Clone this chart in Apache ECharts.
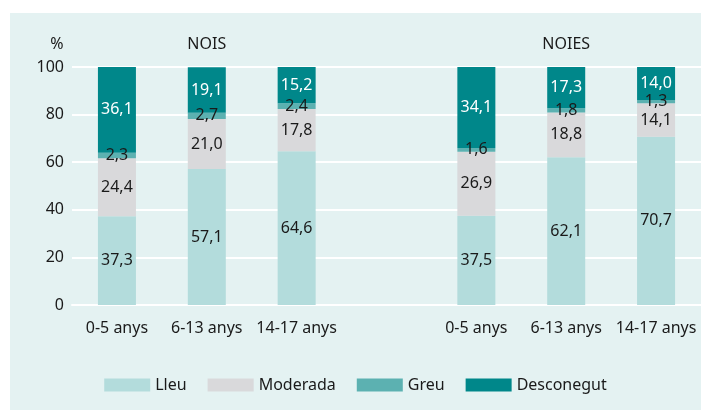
<!DOCTYPE html>
<html>
<head>
<meta charset="utf-8">
<script src="https://cdn.jsdelivr.net/npm/echarts@6/dist/echarts.min.js"></script>
<style>
  html, body { margin: 0; padding: 0; background: #ffffff; }
  #wrap { position: relative; width: 701px; height: 410px; }
  #chart { position: absolute; left: 10px; top: 13px; width: 691px; height: 397px; background: #e4f2f2; }
</style>
</head>
<body>
<div id="wrap"><div id="chart"></div></div>
<script>
// categories: 3 age groups for nois, a gap, 3 for noies
var categories = ['n0', 'n1', 'n2', 'gap', 'f0', 'f1', 'f2'];
var ageLabels = ['0-5 anys', '6-13 anys', '14-17 anys', '', '0-5 anys', '6-13 anys', '14-17 anys'];
var groupNames = ['NOIS', 'NOIES'];
var groupCenterIdx = [1, 5];

var lleu       = [37.3, 57.1, 64.6, '-', 37.5, 62.1, 70.7];
var moderada   = [24.4, 21.0, 17.8, '-', 26.9, 18.8, 14.1];
var greu       = [2.3, 2.7, 2.4, '-', 1.6, 1.8, 1.3];
var desconegut = [36.1, 19.1, 15.2, '-', 34.1, 17.3, 14.0];

var yTicks = [0, 20, 40, 60, 80, 100];

var FONT = 'Noto Sans';
var TXT = '#1a1a1a';

function fmt(p) {
    return Number(p.value).toFixed(1).replace('.', ',');
}

function makeSeries(name, data, color, labelColor) {
    return {
        name: name,
        type: 'bar',
        stack: 'total',
        barWidth: 38,
        data: data,
        itemStyle: {color: color},
        label: {
            show: true,
            position: 'inside',
            formatter: fmt,
            color: labelColor,
            fontFamily: FONT,
            fontSize: 16
        }
    };
}

var myChart = echarts.init(document.getElementById('chart'));

var option = {
    animation: false,
    textStyle: {fontFamily: FONT},
    grid: {left: 62, right: 0, top: 54, bottom: 105},
    legend: {
        bottom: 12,
        left: 'center',
        itemWidth: 46,
        itemHeight: 13,
        itemGap: 21,
        icon: 'rect',
        textStyle: {fontFamily: FONT, fontSize: 16, color: TXT},
        data: ['Lleu', 'Moderada', 'Greu', 'Desconegut']
    },
    xAxis: {
        type: 'category',
        data: categories,
        axisLine: {show: true, lineStyle: {color: '#ffffff', width: 2}},
        axisTick: {show: false},
        axisLabel: {
            interval: 0,
            hideOverlap: false,
            margin: 15,
            fontSize: 16,
            color: TXT,
            formatter: function (v, i) { return ageLabels[i]; }
        }
    },
    yAxis: {
        type: 'value',
        min: yTicks[0],
        max: yTicks[yTicks.length - 1],
        interval: 20,
        axisLine: {show: false},
        axisTick: {show: false},
        axisLabel: {margin: 8, fontSize: 16, color: TXT},
        splitLine: {lineStyle: {color: '#ffffff', width: 2}}
    },
    series: [
        makeSeries('Lleu', lleu, '#b3dcdc', TXT),
        makeSeries('Moderada', moderada, '#d9d9db', TXT),
        makeSeries('Greu', greu, '#5cb1b1', TXT),
        makeSeries('Desconegut', desconegut, '#00878a', '#ffffff')
    ]
};

myChart.setOption(option);

// group titles and % sign placed over the axis
var top100 = myChart.convertToPixel({yAxisIndex: 0}, 100);
var texts = groupNames.map(function (g, i) {
    return {
        type: 'text',
        x: myChart.convertToPixel({xAxisIndex: 0}, categories[groupCenterIdx[i]]),
        y: top100 - 23,
        style: {text: g, fontFamily: FONT, fontSize: 16, fill: TXT, align: 'center', verticalAlign: 'middle'}
    };
});
texts.push({
    type: 'text',
    x: 47,
    y: top100 - 23,
    style: {text: '%', fontFamily: FONT, fontSize: 16, fill: TXT, align: 'center', verticalAlign: 'middle'}
});
myChart.setOption({graphic: texts});
</script>
</body>
</html>
